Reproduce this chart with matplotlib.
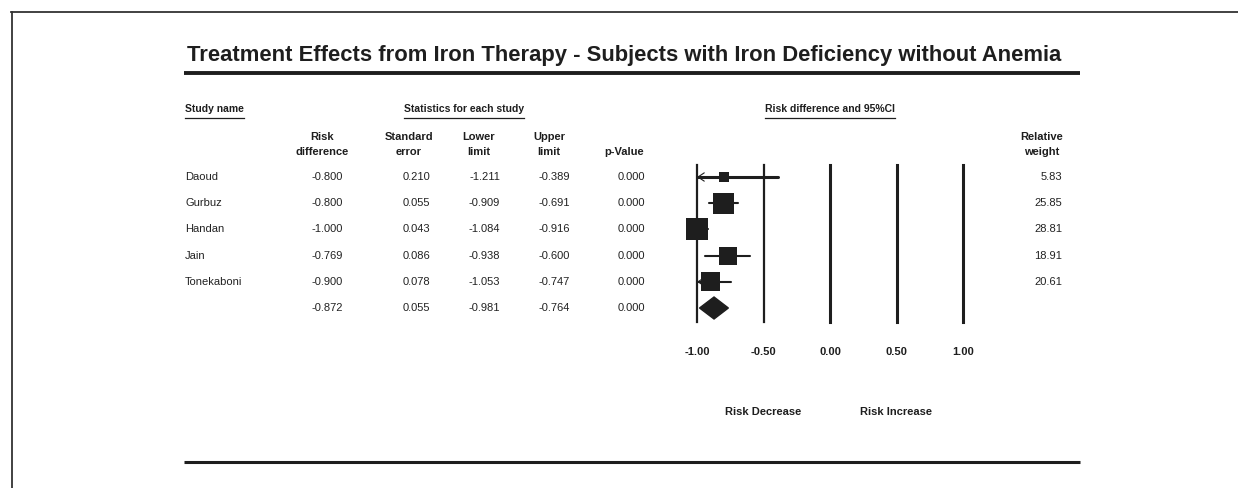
import matplotlib
matplotlib.use("Agg")
import matplotlib.pyplot as plt
from matplotlib.patches import Polygon
import numpy as np

# ---- data ----
studies   = ["Daoud", "Gurbuz", "Handan", "Jain", "Tonekaboni"]
risk_diff = [-0.800, -0.800, -1.000, -0.769, -0.900]
std_err   = [0.210, 0.055, 0.043, 0.086, 0.078]
lower     = [-1.211, -0.909, -1.084, -0.938, -1.053]
upper     = [-0.389, -0.691, -0.916, -0.600, -0.747]
p_value   = [0.000, 0.000, 0.000, 0.000, 0.000]
weights   = [5.83, 25.85, 28.81, 18.91, 20.61]

pooled = {"rd": -0.872, "se": 0.055, "lo": -0.981, "hi": -0.764, "p": 0.000}

x_ticks = [-1.00, -0.50, 0.00, 0.50, 1.00]
title = "Treatment Effects from Iron Therapy - Subjects with Iron Deficiency without Anemia"

# ---- figure, pixel-like layout axes ----
W, H = 1238, 488
fig = plt.figure(figsize=(W / 100, H / 100), dpi=100)
bg = fig.add_axes([0, 0, 1, 1])
bg.set_xlim(0, W)
bg.set_ylim(H, 0)
bg.axis("off")

SANS = ["Liberation Sans", "DejaVu Sans"]
ink = "#1e1e1e"

# page border (top and left only)
bg.plot([11, W], [12, 12], color="#333333", lw=1.3)
bg.plot([12, 12], [12, H], color="#333333", lw=1.3)

# title + rules
t = bg.text(187, 56, title, fontsize=17, fontweight="bold", family=SANS,
            color=ink, va="center", ha="left")
fig.canvas.draw()
tw = t.get_window_extent(fig.canvas.get_renderer()).width
t.set_fontsize(17 * 875 / tw)

bg.plot([184, 1080], [73, 73], color=ink, lw=2.8, solid_capstyle="butt")
bg.plot([184, 1080], [462, 462], color=ink, lw=2.2, solid_capstyle="butt")


def underlined(x, y, s, ha):
    txt = bg.text(x, y, s, fontsize=7.5, fontweight="bold", family=SANS,
                  color=ink, ha=ha, va="center")
    fig.canvas.draw()
    bb = txt.get_window_extent(fig.canvas.get_renderer())
    bg.plot([bb.x0, bb.x1], [y + 9, y + 9], color=ink, lw=0.9)


underlined(185, 109, "Study name", "left")
underlined(464, 109, "Statistics for each study", "center")
underlined(830, 109, "Risk difference and 95%CI", "center")

# column headers
head_kw = dict(fontsize=8, fontweight="bold", family=SANS, color=ink)
col_x = [343, 430, 500, 570, 645]          # right edges of numeric columns
col_head = [("Risk", "difference"), ("Standard", "error"), ("Lower", "limit"),
            ("Upper", "limit"), ("", "p-Value")]
for cx, (h1, h2) in zip(col_x, col_head):
    hc = cx - 21
    bg.text(hc, 137, h1, ha="center", va="center", **head_kw)
    bg.text(hc, 152, h2, ha="center", va="center", **head_kw)
bg.text(1042, 137, "Relative", ha="center", va="center", **head_kw)
bg.text(1042, 152, "weight", ha="center", va="center", **head_kw)

# table rows
row_y0, row_dy = 177, 26.2
cell_kw = dict(fontsize=8, family=SANS, color="#222222", va="center")
cols = [risk_diff, std_err, lower, upper, p_value]
for i, name in enumerate(studies):
    y = row_y0 + i * row_dy
    bg.text(185, y, name, ha="left", **cell_kw)
    for cx, vals in zip(col_x, cols):
        bg.text(cx, y, f"{vals[i]:.3f}", ha="right", **cell_kw)
    bg.text(1062, y, f"{weights[i]:.2f}", ha="right", **cell_kw)
y = row_y0 + len(studies) * row_dy
for cx, key in zip(col_x, ["rd", "se", "lo", "hi", "p"]):
    bg.text(cx, y, f"{pooled[key]:.3f}", ha="right", **cell_kw)

# ---- forest plot axes ----
px_per_unit = 133.0
ax_l, ax_r, ax_t, ax_b = 680, 980, 160, 330
ax = fig.add_axes([ax_l / W, 1 - ax_b / H, (ax_r - ax_l) / W, (ax_b - ax_t) / H])
ax.set_xlim(-1 - (697 - ax_l) / px_per_unit, -1 + (ax_r - 697) / px_per_unit)
ax.set_ylim((ax_b - row_y0) / row_dy, (ax_t - row_y0) / row_dy)
for s in ax.spines.values():
    s.set_visible(False)
ax.set_yticks([])
ax.patch.set_alpha(0)

y_frac_top = (ax_b - 165) / (ax_b - ax_t)
y_frac_bot = (ax_b - 322) / (ax_b - ax_t)
for xv in x_ticks:
    ax.axvline(xv, ymin=y_frac_bot, ymax=y_frac_top, color=ink,
               lw=1.6 if xv < 0 else 2.2, zorder=1)

ax.set_xticks(x_ticks)
ax.set_xticklabels([f"{v:.2f}" for v in x_ticks], fontsize=8, fontweight="bold",
                   family=SANS, color=ink)
ax.tick_params(axis="x", length=0, pad=12)

xmin_plot = x_ticks[0]
for i in range(len(studies)):
    lo, hi = lower[i], upper[i]
    lw = 2.2 if i == 0 else 1.5
    ax.plot([max(lo, xmin_plot), hi], [i, i], color=ink, lw=lw, zorder=2,
            solid_capstyle="round")
    if lo < xmin_plot:
        # CI runs off the left edge: thin open chevron at the limit
        ax.annotate("", xy=(xmin_plot, i), xytext=(xmin_plot + 0.05, i),
                    arrowprops=dict(arrowstyle="->,head_length=0.45,head_width=0.3",
                                    lw=0.8, color=ink, shrinkA=0, shrinkB=0),
                    zorder=2)
    side_pt = 4.1 * np.sqrt(weights[i]) * 0.72
    ax.scatter([risk_diff[i]], [i], marker="s", s=side_pt ** 2, color=ink,
               edgecolor="none", zorder=3)

# pooled diamond
yp = len(studies)
dh = 0.42
diamond = Polygon([(pooled["lo"], yp), (pooled["rd"], yp - dh),
                   (pooled["hi"], yp), (pooled["rd"], yp + dh)],
                  closed=True, color=ink, zorder=3)
ax.add_patch(diamond)

# direction labels
bg.text(763, 412, "Risk Decrease", ha="center", va="center", **head_kw)
bg.text(896, 412, "Risk Increase", ha="center", va="center", **head_kw)

fig.savefig("out.png", dpi=100)
